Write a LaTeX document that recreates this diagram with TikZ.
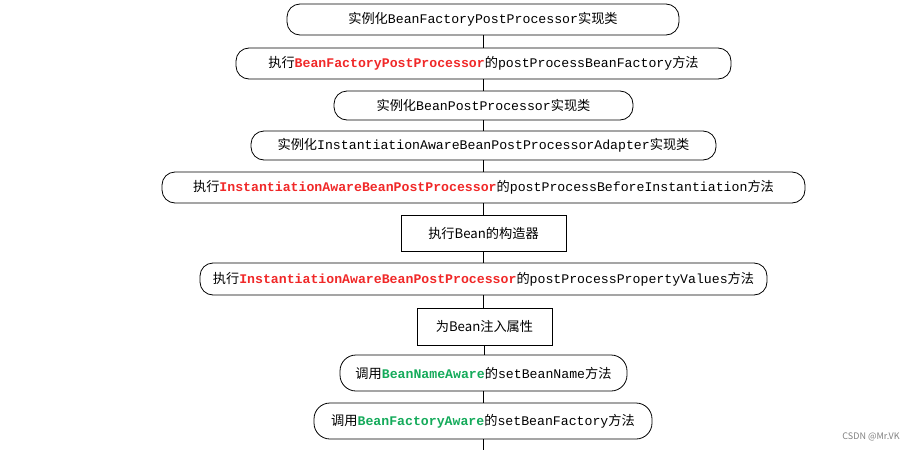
\documentclass[tikz,border=0pt]{standalone}
\usepackage{fontspec}
\setmainfont{Noto Sans CJK SC}
\setmonofont{Liberation Mono}
\usetikzlibrary{positioning}
\definecolor{rd}{RGB}{240,40,40}
\definecolor{gn}{RGB}{20,170,90}
\newcommand{\rt}[1]{{\color{rd}\ttfamily\bfseries #1}}
\newcommand{\gt}[1]{{\color{gn}\ttfamily\bfseries #1}}
\newcommand{\mt}[1]{{\ttfamily #1}}
\tikzset{
  rbox/.style={draw,rounded corners=13pt,inner sep=0pt,font=\fontsize{13.2}{14}\selectfont},
  sbox/.style={draw,inner sep=0pt,font=\fontsize{13.2}{14}\selectfont},
  link/.style={draw,line width=0.8pt}
}
\begin{document}
\begin{tikzpicture}[x=1pt,y=-1pt,line width=0.8pt]
\useasboundingbox (0,0) rectangle (914,450);
\node[rbox,minimum width=392pt,minimum height=31pt] (n1) at (483,19.5) {实例化\mt{BeanFactoryPostProcessor}实现类};
\node[rbox,minimum width=495pt,minimum height=31pt] (n2) at (483.5,63.5) {执行\rt{BeanFactoryPostProcessor}的\mt{postProcessBeanFactory}方法};
\node[rbox,minimum width=299pt,minimum height=29pt] (n3) at (483.5,105.5) {实例化\mt{BeanPostProcessor}实现类};
\node[rbox,minimum width=465pt,minimum height=29pt] (n4) at (483.5,145.5) {实例化\mt{InstantiationAwareBeanPostProcessorAdapter}实现类};
\node[rbox,minimum width=643pt,minimum height=31pt] (n5) at (483.5,187.5) {执行\rt{InstantiationAwareBeanPostProcessor}的\mt{postProcessBeforeInstantiation}方法};
\node[sbox,minimum width=165pt,minimum height=36pt] (n6) at (483.5,233) {执行Bean的构造器};
\node[rbox,minimum width=567pt,minimum height=32pt] (n7) at (483.5,279) {执行\rt{InstantiationAwareBeanPostProcessor}的\mt{postProcessPropertyValues}方法};
\node[sbox,minimum width=135pt,minimum height=37pt] (n8) at (484.5,326.5) {为Bean注入属性};
\node[rbox,rounded corners=16pt,minimum width=287pt,minimum height=36pt] (n9) at (483.5,373) {调用\gt{BeanNameAware}的\mt{setBeanName}方法};
\node[rbox,rounded corners=16pt,minimum width=338pt,minimum height=36pt] (n10) at (483,421) {调用\gt{BeanFactoryAware}的\mt{setBeanFactory}方法};
\coordinate (e) at (483,450);
\foreach \a/\b in {n1/n2,n2/n3,n3/n4,n4/n5,n5/n6,n6/n7,n7/n8,n8/n9,n9/n10}
  \draw[link] (\a.south) -- (\a.south |- \b.north);
\draw[link] (n10.south) -- (e);
\node[anchor=east,text=gray,font=\fontsize{9}{10}\selectfont,inner sep=0pt] (w) at (900,437) {CSDN @Mr.VK};
\end{tikzpicture}
\end{document}
